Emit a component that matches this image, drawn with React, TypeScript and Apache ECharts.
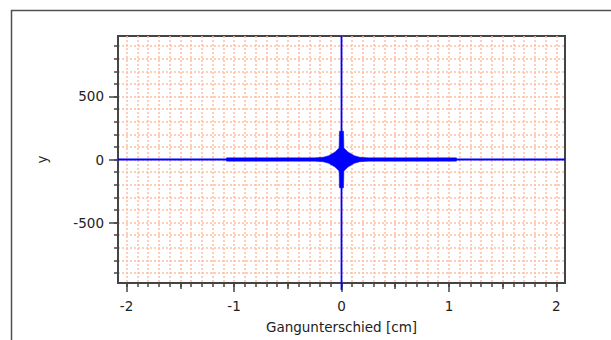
import React, { useEffect, useRef } from "react";
import * as echarts from "echarts";

// Axis ticks / labels
const xMajorTicks = [-2, -1, 0, 1, 2];
const xHalfTicks = [-1.5, -0.5, 0.5, 1.5];
const xMinorTicks = Array.from({ length: 41 }, (_, i) => Math.round(i - 20) / 10);
const yMajorTicks = [-500, 0, 500];
const yMinorTicks = [-900, -800, -700, -600, -500, -400, -300, -200, -100, 0, 100, 200, 300, 400, 500, 600, 700, 800, 900];

// Envelope of the dense interferogram signal
const envX = [-1.07, -0.25, -0.17, -0.12, -0.06, -0.022, -0.019, 0.019, 0.022, 0.06, 0.12, 0.17, 0.25, 1.07];
const envTop = [13, 13, 18, 30, 60, 92, 225, 225, 92, 60, 30, 18, 13, 13];
const envBottom = [-13, -13, -18, -30, -60, -92, -225, -225, -92, -60, -30, -18, -13, -13];

// Zero lines
const zeroH = [[-2.08, 0], [2.08, 0]];
const zeroV = [[0, -1035], [0, 980]];

const X_MIN = -2.08;
const X_MAX = 2.08;
const Y_MIN = -980;
const Y_MAX = 980;

const FONT = "DejaVu Sans";
const AXIS_COLOR = "#444";
const GRID_COLOR = "#ffbfa3";
const BLUE = "#0000ff";

export default function App() {
  const ref = useRef<HTMLDivElement>(null);
  useEffect(() => {
    if (!ref.current) return;
    const chart = echarts.init(ref.current, undefined, { renderer: "svg" });
    const gridLine = { show: true, lineStyle: { color: GRID_COLOR, width: 1.5, type: [2, 2] as any } };
    const hiddenAxisBase = {
      axisLine: { show: false, onZero: false },
      axisLabel: { show: false },
      minorTick: { show: false },
      minorSplitLine: { show: false },
    };
    chart.setOption({
      animation: false,
      backgroundColor: "#fff",
      grid: {
        left: 118,
        top: 36,
        width: 447,
        height: 247,
        show: true,
        borderColor: AXIS_COLOR,
        borderWidth: 2,
        backgroundColor: "#fff",
      },
      graphic: [
        {
          type: "polyline",
          shape: { points: [[11.5, 340], [11.5, 10.5], [611, 10.5]] },
          style: { stroke: "#505050", lineWidth: 1.5, fill: "none" },
          silent: true,
        },
      ],
      xAxis: [
        {
          type: "value",
          min: X_MIN,
          max: X_MAX,
          position: "bottom",
          ...hiddenAxisBase,
          axisTick: { show: true, customValues: xMinorTicks, length: 4, lineStyle: { color: AXIS_COLOR, width: 1.5 } },
          splitLine: gridLine,
        },
        {
          type: "value",
          min: X_MIN,
          max: X_MAX,
          position: "bottom",
          ...hiddenAxisBase,
          axisTick: { show: true, customValues: xHalfTicks, length: 6, lineStyle: { color: AXIS_COLOR, width: 1.5 } },
          splitLine: { show: false },
        },
        {
          type: "value",
          min: X_MIN,
          max: X_MAX,
          position: "bottom",
          axisLine: { show: true, onZero: false, lineStyle: { color: AXIS_COLOR, width: 2 } },
          axisTick: { show: true, customValues: xMajorTicks, length: 9, lineStyle: { color: AXIS_COLOR, width: 1.5 } },
          axisLabel: {
            show: true,
            customValues: xMajorTicks,
            margin: 16,
            color: "#222",
            fontFamily: FONT,
            fontSize: 13.5,
          },
          splitLine: { show: false },
          name: "Gangunterschied [cm]",
          nameLocation: "middle",
          nameGap: 37,
          nameTextStyle: { color: "#222", fontFamily: FONT, fontSize: 13.5 },
        },
      ],
      yAxis: [
        {
          type: "value",
          min: Y_MIN,
          max: Y_MAX,
          position: "left",
          ...hiddenAxisBase,
          axisTick: { show: true, customValues: yMinorTicks, length: 4, lineStyle: { color: AXIS_COLOR, width: 1.5 } },
          splitLine: gridLine,
        },
        {
          type: "value",
          min: Y_MIN,
          max: Y_MAX,
          position: "left",
          axisLine: { show: true, onZero: false, lineStyle: { color: AXIS_COLOR, width: 2 } },
          axisTick: { show: true, customValues: yMajorTicks, length: 9, lineStyle: { color: AXIS_COLOR, width: 1.5 } },
          axisLabel: {
            show: true,
            customValues: yMajorTicks,
            margin: 14,
            color: "#222",
            fontFamily: FONT,
            fontSize: 13.5,
          },
          splitLine: { show: false },
          name: "y",
          nameLocation: "middle",
          nameGap: 69,
          nameTextStyle: { color: "#222", fontFamily: FONT, fontSize: 13.5 },
        },
      ],
      series: [
        {
          type: "line",
          xAxisIndex: 2,
          yAxisIndex: 1,
          data: zeroH,
          showSymbol: false,
          lineStyle: { color: BLUE, width: 1.8 },
          z: 5,
        },
        {
          type: "line",
          xAxisIndex: 2,
          yAxisIndex: 1,
          data: zeroV,
          showSymbol: false,
          clip: false,
          lineStyle: { color: BLUE, width: 1.8 },
          z: 5,
        },
        {
          type: "custom",
          xAxisIndex: 2,
          yAxisIndex: 1,
          data: [[0, 0]],
          z: 6,
          renderItem: (_params: any, api: any) => {
            const top = envX.map((x, i) => api.coord([x, envTop[i]]));
            const bottom = envX.map((x, i) => api.coord([x, envBottom[i]])).reverse();
            return {
              type: "polygon",
              shape: { points: top.concat(bottom) },
              style: { fill: BLUE, stroke: BLUE, lineWidth: 0.5 },
            };
          },
        },
      ],
    });
    return () => chart.dispose();
  }, []);
  return (
    <div
      ref={ref}
      style={{ position: "fixed", left: 0, top: 0, width: 611, height: 340 }}
    />
  );
}
